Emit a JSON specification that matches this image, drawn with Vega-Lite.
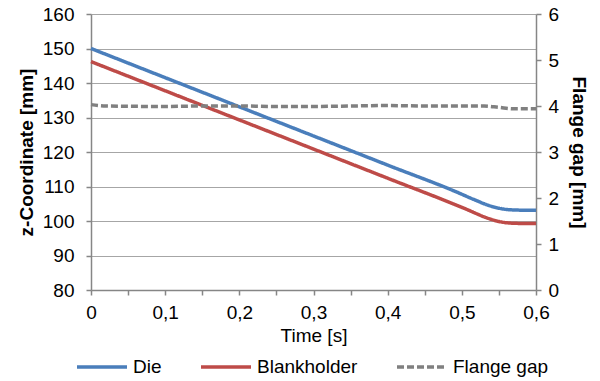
{
  "$schema": "https://vega.github.io/schema/vega-lite/v6.json",
  "width": 445,
  "height": 276,
  "autosize": {"type": "none"},
  "padding": {"left": 91, "top": 14, "right": 64, "bottom": 91},
  "background": "white",
  "config": {
    "font": "Liberation Sans",
    "view": {"stroke": null},
    "axis": {
      "labelFont": "Liberation Sans",
      "titleFont": "Liberation Sans",
      "labelFontSize": 19,
      "titleFontSize": 19,
      "labelColor": "#000000",
      "titleColor": "#000000",
      "domainColor": "#868686",
      "tickColor": "#868686",
      "gridColor": "#a6a6a6",
      "domainWidth": 1.5,
      "tickWidth": 1.5,
      "tickSize": 5
    },
    "legend": {"labelFont": "Liberation Sans"}
  },
  "data": {
    "values": [
      {"t": 0, "series": "Die", "value": 150},
      {"t": 0.1, "series": "Die", "value": 141.55},
      {"t": 0.2, "series": "Die", "value": 133.1},
      {"t": 0.3, "series": "Die", "value": 124.65},
      {"t": 0.4, "series": "Die", "value": 116.2},
      {"t": 0.5, "series": "Die", "value": 107.75},
      {"t": 0.51, "series": "Die", "value": 106.8},
      {"t": 0.52, "series": "Die", "value": 105.9},
      {"t": 0.53, "series": "Die", "value": 105.0},
      {"t": 0.54, "series": "Die", "value": 104.25},
      {"t": 0.55, "series": "Die", "value": 103.7},
      {"t": 0.56, "series": "Die", "value": 103.35},
      {"t": 0.57, "series": "Die", "value": 103.2},
      {"t": 0.58, "series": "Die", "value": 103.15},
      {"t": 0.6, "series": "Die", "value": 103.15},
      {"t": 0, "series": "Blankholder", "value": 146.2},
      {"t": 0.1, "series": "Blankholder", "value": 137.75},
      {"t": 0.2, "series": "Blankholder", "value": 129.3},
      {"t": 0.3, "series": "Blankholder", "value": 120.85},
      {"t": 0.4, "series": "Blankholder", "value": 112.4},
      {"t": 0.5, "series": "Blankholder", "value": 103.95},
      {"t": 0.51, "series": "Blankholder", "value": 103.05},
      {"t": 0.52, "series": "Blankholder", "value": 102.1},
      {"t": 0.53, "series": "Blankholder", "value": 101.2},
      {"t": 0.54, "series": "Blankholder", "value": 100.45},
      {"t": 0.55, "series": "Blankholder", "value": 99.85},
      {"t": 0.56, "series": "Blankholder", "value": 99.5},
      {"t": 0.57, "series": "Blankholder", "value": 99.35},
      {"t": 0.58, "series": "Blankholder", "value": 99.3},
      {"t": 0.6, "series": "Blankholder", "value": 99.3},
      {"t": 0, "series": "Flange gap", "value": 4.03},
      {"t": 0.02, "series": "Flange gap", "value": 4.0},
      {"t": 0.1, "series": "Flange gap", "value": 3.99},
      {"t": 0.15, "series": "Flange gap", "value": 4.0},
      {"t": 0.2, "series": "Flange gap", "value": 4.0},
      {"t": 0.25, "series": "Flange gap", "value": 3.99},
      {"t": 0.3, "series": "Flange gap", "value": 3.99},
      {"t": 0.35, "series": "Flange gap", "value": 4.0},
      {"t": 0.4, "series": "Flange gap", "value": 4.01},
      {"t": 0.45, "series": "Flange gap", "value": 4.0},
      {"t": 0.5, "series": "Flange gap", "value": 4.0},
      {"t": 0.53, "series": "Flange gap", "value": 4.0},
      {"t": 0.55, "series": "Flange gap", "value": 3.97},
      {"t": 0.57, "series": "Flange gap", "value": 3.94},
      {"t": 0.6, "series": "Flange gap", "value": 3.94}
    ]
  },
  "encoding": {
    "x": {
      "field": "t",
      "type": "quantitative",
      "scale": {"domain": [0, 0.6], "nice": false},
      "axis": {
        "title": "Time [s]",
        "titleFontWeight": "normal",
        "titlePadding": 4,
        "grid": false,
        "values": [0, 0.05, 0.1, 0.15, 0.2, 0.25, 0.3, 0.35, 0.4, 0.45, 0.5, 0.55, 0.6],
        "labelExpr": "abs(datum.value * 10 - round(datum.value * 10)) < 0.001 ? replace(format(datum.value, '.1~f'), '.', ',') : ''",
        "labelPadding": 8,
        "labelFlush": false
      }
    },
    "color": {
      "field": "series",
      "type": "nominal",
      "scale": {"domain": ["Die", "Blankholder", "Flange gap"], "range": ["#4a7ebb", "#be4b48", "#808080"]},
      "legend": {"title": null, "orient": "none", "legendX": -16, "legendY": 326, "direction": "horizontal", "symbolType": "stroke", "symbolSize": 2500, "labelFontSize": 19, "columnPadding": 32, "labelOffset": 4, "padding": 0}
    },
    "strokeDash": {
      "field": "series",
      "type": "nominal",
      "scale": {"domain": ["Die", "Blankholder", "Flange gap"], "range": [[1, 0], [1, 0], [7, 3]]},
      "legend": {"title": null, "orient": "none", "legendX": -16, "legendY": 326, "direction": "horizontal", "symbolType": "stroke", "symbolSize": 2500, "labelFontSize": 19, "columnPadding": 32, "labelOffset": 4, "padding": 0}
    },
    "strokeWidth": {
      "field": "series",
      "type": "nominal",
      "scale": {"domain": ["Die", "Blankholder", "Flange gap"], "range": [3.5, 3.5, 2]},
      "legend": {"title": null, "orient": "none", "legendX": -16, "legendY": 326, "direction": "horizontal", "symbolType": "stroke", "symbolSize": 2500, "labelFontSize": 19, "columnPadding": 32, "labelOffset": 4, "padding": 0}
    }
  },
  "layer": [
    {
      "transform": [{"filter": "datum.series !== 'Flange gap'"}],
      "mark": {"type": "line", "interpolate": "monotone"},
      "encoding": {
        "y": {
          "field": "value",
          "type": "quantitative",
          "scale": {"domain": [80, 160], "nice": false, "zero": false},
          "axis": {
            "title": "z-Coordinate [mm]",
            "titleFontWeight": "bold",
            "values": [80, 90, 100, 110, 120, 130, 140, 150, 160],
            "grid": true,
            "labelPadding": 12,
            "titlePadding": 6
          }
        }
      }
    },
    {
      "transform": [{"filter": "datum.series === 'Flange gap'"}],
      "mark": {"type": "line", "interpolate": "monotone"},
      "encoding": {
        "y": {
          "field": "value",
          "type": "quantitative",
          "scale": {"domain": [0, 6], "nice": false, "zero": false},
          "axis": {
            "orient": "right",
            "title": "Flange gap [mm]",
            "titleFontWeight": "bold",
            "values": [0, 1, 2, 3, 4, 5, 6],
            "grid": false,
            "labelPadding": 7,
            "titlePadding": 10
          }
        }
      }
    }
  ],
  "resolve": {"scale": {"y": "independent"}}
}
